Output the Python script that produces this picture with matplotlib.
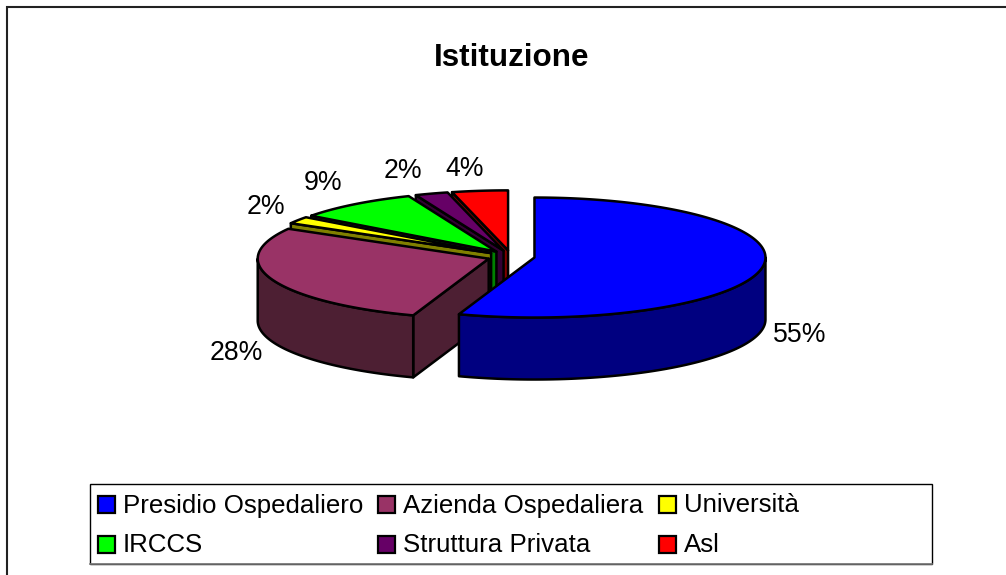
import numpy as np
import matplotlib
matplotlib.use("Agg")
import matplotlib.pyplot as plt
from matplotlib.patches import Polygon, Rectangle

categories = ["Presidio Ospedaliero", "Azienda Ospedaliera", "Università",
              "IRCCS", "Struttura Privata", "Asl"]
values = [55.3, 28.0, 1.9, 8.6, 2.3, 3.9]
pct_labels = ["55%", "28%", "2%", "9%", "2%", "4%"]
top_colors = ["#0000FF", "#993366", "#FFFF00", "#00FF00", "#660066", "#FF0000"]
side_colors = ["#000080", "#4D1F33", "#808000", "#008000", "#330033", "#800000"]
label_pos = [(800, 335.5), (236, 353.5), (266, 207.5), (323, 183.5), (403, 171.5), (465, 168.5)]

plt.rcParams["font.family"] = ["Liberation Sans", "DejaVu Sans"]
W, H = 1006, 575
fig = plt.figure(figsize=(W / 100, H / 100), dpi=100)
ax = fig.add_axes([0, 0, 1, 1])
ax.set_xlim(0, W)
ax.set_ylim(H, 0)
ax.axis("off")

LW = 1.8
cx, cy, a, b, depth, explode = 511.0, 256.5, 231.0, 60.0, 62.0, 0.103

# chart area frame: only the top and left edges lie inside the picture
ax.plot([7, 7, W], [H, 6.5, 6.5], color="#222222", lw=1.5, solid_joinstyle="miter")

fr = np.array(values) / sum(values)
ends = np.cumsum(fr) * 2 * np.pi
starts = ends - fr * 2 * np.pi


def pt(ox, oy, t):
    return ox + a * np.sin(t), oy - b * np.cos(t)


def poly(xy, fc):
    ax.add_patch(Polygon(xy, closed=True, fc=fc, ec="black", lw=LW, joinstyle="round"))


for i in range(len(values) - 1, -1, -1):
    s, e = starts[i], ends[i]
    mid = (s + e) / 2
    ox = cx + explode * a * np.sin(mid)
    oy = cy - explode * b * np.cos(mid)
    # radial face at the slice's start
    if s > 0:
        x0, y0 = pt(ox, oy, s)
        poly([(ox, oy), (x0, y0), (x0, y0 + depth), (ox, oy + depth)], side_colors[i])
    # outer wall on the front half of the ellipse
    w0, w1 = max(s, np.pi / 2), min(e, 3 * np.pi / 2)
    if w1 > w0:
        t = np.linspace(w0, w1, 120)
        xs, ys = pt(ox, oy, t)
        poly(list(zip(xs, ys)) + list(zip(xs[::-1], ys[::-1] + depth)), side_colors[i])
    # top face
    t = np.linspace(s, e, 200)
    xs, ys = pt(ox, oy, t)
    poly([(ox, oy)] + list(zip(xs, ys)), top_colors[i])

for lab, (x, y) in zip(pct_labels, label_pos):
    ax.text(x, y, lab, fontsize=19.2, ha="center", va="center", color="black")

ax.text(511.5, 58, "Istituzione", fontsize=22.6, fontweight="bold", ha="center", va="center")

# legend
ax.add_patch(Rectangle((90, 483.5), 842, 80, fc="white", ec="black", lw=1.0, zorder=5))
ax.plot([90, 932], [564, 564], color="#777777", lw=1.2, zorder=6)
col_x = [98, 378, 659]
row_y = [505.5, 545.5]
box_y = [504, 544]
for i, name in enumerate(categories):
    x = col_x[i % 3]
    ax.add_patch(Rectangle((x, box_y[i // 3] - 8.5), 17, 17, fc=top_colors[i], ec="black", lw=1.6, zorder=6))
    ax.text(x + 25, row_y[i // 3], name, fontsize=18.6, ha="left", va="center", zorder=6)

fig.savefig("out.png", dpi=100)
